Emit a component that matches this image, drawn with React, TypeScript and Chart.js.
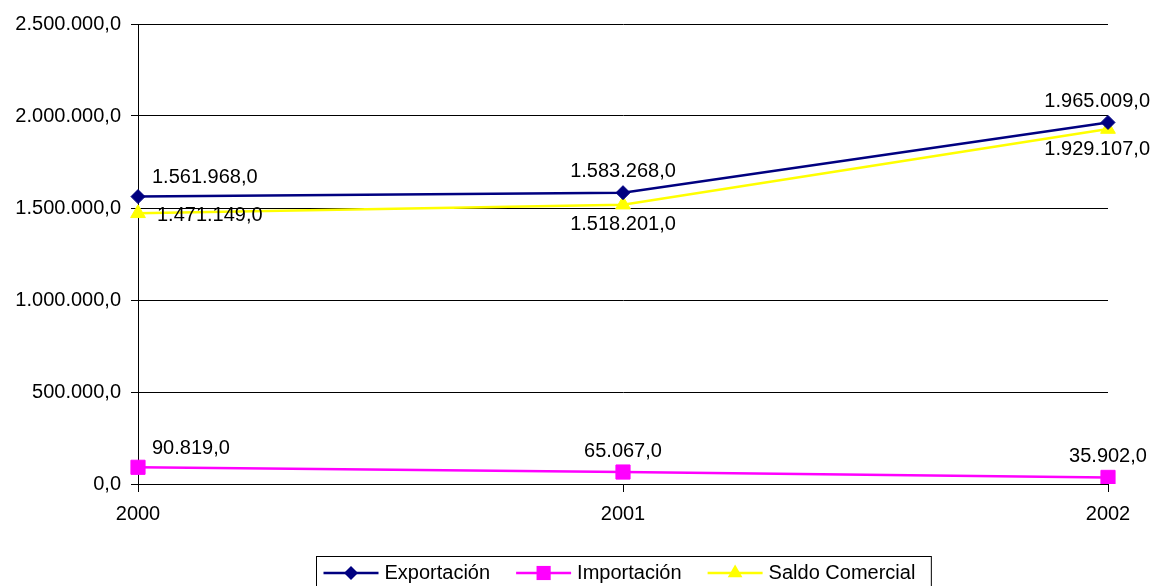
import React, { useEffect, useRef } from "react";
import { Chart, registerables } from "chart.js";

Chart.register(...registerables);

const categories = ["2000", "2001", "2002"];
const exportacion = [1561968, 1583268, 1965009];
const importacion = [90819, 65067, 35902];
const saldoComercial = [1471149, 1518201, 1929107];
const seriesNames = ["Exportación", "Importación", "Saldo Comercial"];
const yMin = 0;
const yMax = 2500000;
const yStep = 500000;

const FONT = '"Liberation Sans", Arial, sans-serif';

function fmt(v: number): string {
  const neg = v < 0;
  const abs = Math.abs(v);
  const intPart = Math.floor(abs);
  const dec = Math.round((abs - intPart) * 10);
  const s = String(intPart).replace(/\B(?=(\d{3})+(?!\d))/g, ".");
  return (neg ? "-" : "") + s + "," + dec;
}

type Place = "rightAbove" | "right" | "above" | "below";

const dataLabelPlugin = {
  id: "dataLabels",
  afterDatasetsDraw(chart: any) {
    const ctx = chart.ctx;
    ctx.save();
    ctx.font = `20px ${FONT}`;
    ctx.fillStyle = "#000";
    ctx.textBaseline = "middle";
    chart.data.datasets.forEach((ds: any, di: number) => {
      const meta = chart.getDatasetMeta(di);
      const places: Place[] = ds.labelPlaces || [];
      meta.data.forEach((pt: any, i: number) => {
        const text = fmt(ds.data[i]);
        const w = ctx.measureText(text).width;
        const place = places[i] || "above";
        let left = pt.x - w / 2;
        let y = pt.y - 21;
        if (place === "rightAbove") {
          left = pt.x + 14;
          y = pt.y - 19;
        } else if (place === "right") {
          left = pt.x + 19;
          y = pt.y + 2;
        } else if (place === "below") {
          y = pt.y + 20;
        }
        if (left + w > chart.width - 5) left = chart.width - 5 - w;
        ctx.textAlign = "left";
        ctx.fillText(text, left, y);
      });
    });
    ctx.restore();
  },
};

const legendPlugin = {
  id: "boxLegend",
  afterDraw(chart: any) {
    const ctx = chart.ctx;
    ctx.save();
    ctx.font = `20px ${FONT}`;
    const lineLen = 55;
    const gapText = 6;
    const gapItem = 26;
    const padL = 7;
    const padR = 16;
    const items = chart.data.datasets.map((ds: any) => ({
      ds,
      w: ctx.measureText(ds.label).width,
    }));
    let content = 0;
    items.forEach((it: any, i: number) => {
      content += lineLen + gapText + it.w + (i < items.length - 1 ? gapItem : 0);
    });
    const boxW = padL + content + padR;
    const cx = 623.5;
    const boxLeft = Math.round(cx - boxW / 2) + 0.5;
    const boxTop = 556.5;
    ctx.strokeStyle = "#000";
    ctx.lineWidth = 1;
    ctx.strokeRect(boxLeft, boxTop, boxW, 50);
    const cy = 573;
    let x = boxLeft + padL;
    items.forEach((it: any) => {
      const ds = it.ds;
      ctx.strokeStyle = ds.borderColor;
      ctx.lineWidth = ds.borderWidth;
      ctx.beginPath();
      ctx.moveTo(x, cy);
      ctx.lineTo(x + lineLen, cy);
      ctx.stroke();
      const mx = x + lineLen / 2;
      ctx.fillStyle = ds.pointBackgroundColor;
      ctx.beginPath();
      if (ds.pointStyle === "rectRot") {
        const r = ds.pointRadius;
        ctx.moveTo(mx, cy - r);
        ctx.lineTo(mx + r, cy);
        ctx.lineTo(mx, cy + r);
        ctx.lineTo(mx - r, cy);
        ctx.closePath();
      } else if (ds.pointStyle === "rect") {
        const s = ds.pointRadius * Math.SQRT1_2;
        ctx.rect(mx - s, cy - s, 2 * s, 2 * s);
      } else {
        const r = ds.pointRadius;
        ctx.moveTo(mx, cy - r);
        ctx.lineTo(mx + r * Math.sin(Math.PI / 3), cy + r / 2);
        ctx.lineTo(mx - r * Math.sin(Math.PI / 3), cy + r / 2);
        ctx.closePath();
      }
      ctx.fill();
      ctx.fillStyle = "#000";
      ctx.textAlign = "left";
      ctx.textBaseline = "middle";
      ctx.fillText(ds.label, x + lineLen + gapText, cy);
      x += lineLen + gapText + it.w + gapItem;
    });
    ctx.restore();
  },
};

export default function App() {
  const ref = useRef<HTMLCanvasElement | null>(null);
  useEffect(() => {
    document.body.style.margin = "0";
    const canvas = ref.current;
    if (!canvas) return;
    const chart = new Chart(canvas, {
      type: "line",
      data: {
        labels: categories,
        datasets: [
          {
            label: seriesNames[0],
            data: exportacion,
            borderColor: "#000080",
            backgroundColor: "#000080",
            pointBackgroundColor: "#000080",
            pointBorderColor: "#000080",
            borderWidth: 2.5,
            pointStyle: "rectRot",
            pointRadius: 7,
            pointBorderWidth: 1,
            tension: 0,
            labelPlaces: ["rightAbove", "above", "above"],
          } as any,
          {
            label: seriesNames[1],
            data: importacion,
            borderColor: "#FF00FF",
            backgroundColor: "#FF00FF",
            pointBackgroundColor: "#FF00FF",
            pointBorderColor: "#FF00FF",
            borderWidth: 2.5,
            pointStyle: "rect",
            pointRadius: 10,
            pointBorderWidth: 1,
            tension: 0,
            labelPlaces: ["rightAbove", "above", "above"],
          } as any,
          {
            label: seriesNames[2],
            data: saldoComercial,
            borderColor: "#FFFF00",
            backgroundColor: "#FFFF00",
            pointBackgroundColor: "#FFFF00",
            pointBorderColor: "#FFFF00",
            borderWidth: 2.5,
            pointStyle: "triangle",
            pointRadius: 8.5,
            pointBorderWidth: 1,
            tension: 0,
            labelPlaces: ["right", "below", "below"],
          } as any,
        ],
      },
      options: {
        responsive: false,
        animation: false,
        layout: { padding: { top: 24, right: 47, left: 0, bottom: 0 } },
        plugins: {
          legend: { display: false },
          tooltip: { enabled: false },
        },
        scales: {
          x: {
            type: "category",
            offset: false,
            grid: {
              drawOnChartArea: false,
              drawTicks: true,
              tickLength: 8,
              color: "#000",
            },
            border: { display: true, color: "#000", width: 1 },
            ticks: {
              color: "#000",
              font: { family: FONT, size: 20 },
              padding: 10,
              maxRotation: 0,
            },
            afterFit: (scale: any) => {
              scale.height = 102;
            },
          },
          y: {
            min: yMin,
            max: yMax,
            grid: {
              color: "#000",
              lineWidth: 1,
              drawTicks: true,
              tickLength: 7,
              tickColor: "#000",
            },
            border: { display: true, color: "#000", width: 1 },
            ticks: {
              stepSize: yStep,
              color: "#000",
              font: { family: FONT, size: 20 },
              padding: 10,
              callback: (v: any) => fmt(Number(v)),
            },
            afterFit: (scale: any) => {
              scale.width = 138;
            },
          },
        },
      },
      plugins: [dataLabelPlugin, legendPlugin],
    });
    return () => chart.destroy();
  }, []);
  return (
    <div style={{ width: 1155, height: 586, background: "#fff" }}>
      <canvas ref={ref} width={1155} height={586} style={{ display: "block" }} />
    </div>
  );
}
